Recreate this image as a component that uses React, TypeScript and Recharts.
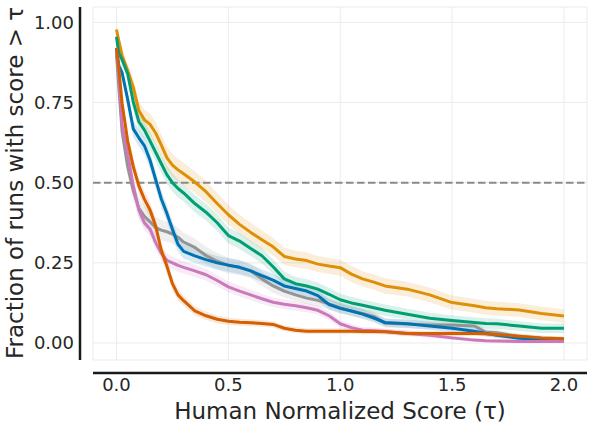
import React from "react"
import {
  ComposedChart,
  Area,
  Line,
  XAxis,
  YAxis,
  CartesianGrid,
  ReferenceLine,
} from "recharts"

const FONT = "DejaVu Sans"
const INK = "#262626"

// ─── Data ────────────────────────────────────────────────────────────────────

const TAU = [
  0, 0.01, 0.025, 0.05, 0.075,
  0.1, 0.125, 0.15, 0.175, 0.2,
  0.225, 0.25, 0.275, 0.3, 0.35,
  0.4, 0.45, 0.5, 0.55, 0.6,
  0.65, 0.7, 0.75, 0.8, 0.85,
  0.9, 0.95, 1.0, 1.05, 1.1,
  1.15, 1.2, 1.3, 1.4, 1.5,
  1.6, 1.65, 1.7, 1.8, 1.9,
  2.0,
]

const ORANGE = [
  0.978, 0.944, 0.897, 0.85, 0.798,
  0.725, 0.696, 0.682, 0.655, 0.618,
  0.578, 0.555, 0.54, 0.528, 0.502,
  0.472, 0.435, 0.4, 0.37, 0.345,
  0.322, 0.3, 0.27, 0.262, 0.257,
  0.246, 0.24, 0.235, 0.215, 0.2,
  0.19, 0.178, 0.168, 0.15, 0.126,
  0.116, 0.11, 0.107, 0.103, 0.092,
  0.084,
]
const ORANGE_CI = [
  0.008, 0.012, 0.018, 0.022, 0.026,
  0.03, 0.032, 0.034, 0.035, 0.035,
  0.035, 0.035, 0.035, 0.035, 0.034,
  0.033, 0.032, 0.031, 0.03, 0.03,
  0.029, 0.028, 0.027, 0.026, 0.026,
  0.025, 0.025, 0.025, 0.025, 0.024,
  0.024, 0.024, 0.023, 0.023, 0.022,
  0.022, 0.022, 0.022, 0.021, 0.021,
  0.021,
]

const GREEN = [
  0.955, 0.905, 0.884, 0.84, 0.752,
  0.69, 0.664, 0.63, 0.595, 0.56,
  0.525, 0.5, 0.482, 0.468, 0.435,
  0.408, 0.375, 0.335, 0.318, 0.295,
  0.272, 0.238, 0.2, 0.185, 0.178,
  0.168, 0.152, 0.135, 0.125, 0.118,
  0.11, 0.102, 0.09, 0.077, 0.07,
  0.064, 0.061, 0.06, 0.053, 0.046,
  0.046,
]
const GREEN_CI = [
  0.01, 0.014, 0.018, 0.022, 0.025,
  0.027, 0.028, 0.028, 0.028, 0.028,
  0.028, 0.028, 0.028, 0.027, 0.027,
  0.026, 0.026, 0.025, 0.025, 0.024,
  0.024, 0.023, 0.022, 0.021, 0.021,
  0.02, 0.02, 0.019, 0.019, 0.018,
  0.018, 0.018, 0.017, 0.017, 0.016,
  0.016, 0.016, 0.016, 0.015, 0.015,
  0.015,
]

const BLUE = [
  0.92, 0.865, 0.843, 0.76, 0.668,
  0.64, 0.615, 0.57, 0.51, 0.45,
  0.405, 0.355, 0.308, 0.286, 0.272,
  0.26, 0.25, 0.243, 0.236, 0.225,
  0.21, 0.196, 0.178, 0.17, 0.162,
  0.148, 0.12, 0.108, 0.1, 0.09,
  0.078, 0.064, 0.06, 0.053, 0.046,
  0.037, 0.03, 0.024, 0.015, 0.012,
  0.01,
]
const BLUE_CI = [
  0.012, 0.016, 0.02, 0.024, 0.026,
  0.027, 0.027, 0.027, 0.027, 0.027,
  0.026, 0.025, 0.024, 0.023, 0.022,
  0.022, 0.021, 0.021, 0.021, 0.02,
  0.02, 0.019, 0.019, 0.018, 0.018,
  0.017, 0.016, 0.016, 0.015, 0.015,
  0.014, 0.013, 0.013, 0.012, 0.012,
  0.011, 0.01, 0.009, 0.008, 0.007,
  0.007,
]

const GRAY = [
  0.9, 0.8, 0.66, 0.55, 0.475,
  0.42, 0.395, 0.378, 0.36, 0.352,
  0.347, 0.34, 0.33, 0.315, 0.298,
  0.273, 0.255, 0.242, 0.236, 0.225,
  0.2, 0.178, 0.162, 0.15, 0.14,
  0.133, 0.122, 0.11, 0.1, 0.092,
  0.083, 0.062, 0.059, 0.056, 0.056,
  0.053, 0.034, 0.032, 0.02, 0.015,
  0.012,
]
const GRAY_CI = [
  0.015, 0.02, 0.025, 0.03, 0.032,
  0.033, 0.033, 0.033, 0.032, 0.032,
  0.031, 0.03, 0.03, 0.029, 0.028,
  0.027, 0.026, 0.025, 0.024, 0.023,
  0.022, 0.021, 0.02, 0.019, 0.018,
  0.018, 0.017, 0.016, 0.016, 0.015,
  0.015, 0.014, 0.013, 0.013, 0.013,
  0.012, 0.011, 0.01, 0.009, 0.008,
  0.008,
]

const PINK = [
  0.91, 0.84, 0.68, 0.59, 0.49,
  0.415, 0.375, 0.355, 0.313, 0.28,
  0.258, 0.25, 0.242, 0.236, 0.225,
  0.213, 0.195, 0.175, 0.162, 0.15,
  0.138, 0.127, 0.121, 0.116, 0.11,
  0.102, 0.085, 0.06, 0.048, 0.04,
  0.038, 0.036, 0.03, 0.024, 0.016,
  0.009, 0.007, 0.006, 0.005, 0.005,
  0.005,
]
const PINK_CI = [
  0.015, 0.02, 0.024, 0.026, 0.026,
  0.025, 0.024, 0.023, 0.022, 0.021,
  0.02, 0.02, 0.02, 0.019, 0.019,
  0.018, 0.018, 0.017, 0.017, 0.016,
  0.016, 0.015, 0.015, 0.015, 0.014,
  0.014, 0.013, 0.012, 0.011, 0.01,
  0.01, 0.009, 0.009, 0.008, 0.007,
  0.006, 0.005, 0.005, 0.005, 0.005,
  0.005,
]

const RED = [
  0.92, 0.86, 0.748, 0.63, 0.55,
  0.49, 0.448, 0.415, 0.365, 0.29,
  0.24, 0.185, 0.15, 0.132, 0.1,
  0.085, 0.074, 0.068, 0.065, 0.063,
  0.061, 0.058, 0.046, 0.04, 0.037,
  0.037, 0.037, 0.037, 0.037, 0.036,
  0.036, 0.035, 0.03, 0.03, 0.03,
  0.03, 0.029, 0.026, 0.021, 0.016,
  0.013,
]
const RED_CI = [
  0.015, 0.02, 0.025, 0.026, 0.026,
  0.026, 0.025, 0.025, 0.024, 0.023,
  0.022, 0.02, 0.018, 0.016, 0.014,
  0.013, 0.012, 0.011, 0.011, 0.01,
  0.01, 0.01, 0.009, 0.009, 0.009,
  0.009, 0.009, 0.009, 0.009, 0.009,
  0.009, 0.008, 0.008, 0.008, 0.008,
  0.008, 0.008, 0.008, 0.007, 0.007,
  0.006,
]

const X_TICKS = [0, 0.5, 1, 1.5, 2]
const Y_TICKS = [0, 0.25, 0.5, 0.75, 1]

const SERIES = [
  { key: "orange", color: "#DE8F05", values: ORANGE, ci: ORANGE_CI },
  { key: "green", color: "#029E73", values: GREEN, ci: GREEN_CI },
  { key: "gray", color: "#949494", values: GRAY, ci: GRAY_CI },
  { key: "blue", color: "#0173B2", values: BLUE, ci: BLUE_CI },
  { key: "pink", color: "#CC78BC", values: PINK, ci: PINK_CI },
  { key: "red", color: "#D55E00", values: RED, ci: RED_CI },
]

const rows = TAU.map((tau, i) => {
  const row: Record<string, number | number[]> = { tau }
  for (const s of SERIES) {
    row[s.key] = s.values[i]
    row[`${s.key}Band`] = [s.values[i] - s.ci[i], s.values[i] + s.ci[i]]
  }
  return row
})

const tickStyle = { fontSize: 18, fill: INK, fontFamily: FONT }

export default function App() {
  return (
    <div style={{ position: "absolute", left: 0, top: 0, width: 590, height: 436, background: "#fff" }}>
      <ComposedChart width={590} height={436} data={rows} margin={{ top: 7, right: 3, left: 0, bottom: 0 }}>
        <CartesianGrid stroke="#ebebeb" strokeWidth={1} />
        <XAxis
          dataKey="tau" type="number" domain={[-0.105, 2.103]} ticks={X_TICKS} allowDataOverflow
          tickFormatter={(v: number) => v.toFixed(1)}
          axisLine={false} tickLine={false} tickSize={0} tickMargin={18} height={76} tick={tickStyle}
          label={{ value: "Human Normalized Score (τ)", position: "insideBottom", offset: 17, fontSize: 23, fill: INK, fontFamily: FONT }}
        />
        <YAxis
          type="number" domain={[-0.053, 1.048]} ticks={Y_TICKS} allowDataOverflow
          tickFormatter={(v: number) => v.toFixed(2)}
          axisLine={false} tickLine={false} tickSize={0} tickMargin={19} width={93} tick={tickStyle}
        />
        {SERIES.map((s) => (
          <Area key={`${s.key}-band`} dataKey={`${s.key}Band`} type="linear" stroke="none"
            fill={s.color} fillOpacity={0.15} isAnimationActive={false} activeDot={false} />
        ))}
        <ReferenceLine y={0.5} stroke="#8a8a8a" strokeWidth={2} strokeDasharray="7.5 3.5" />
        {SERIES.map((s) => (
          <Line key={s.key} dataKey={s.key} type="linear" stroke={s.color} strokeWidth={3}
            strokeLinejoin="round" dot={false} activeDot={false} isAnimationActive={false} />
        ))}
      </ComposedChart>
      <svg width={590} height={436} style={{ position: "absolute", left: 0, top: 0, pointerEvents: "none" }}>
        <line x1={80} y1={7} x2={80} y2={360} stroke="#1a1a1a" strokeWidth={2.5} />
        <line x1={93} y1={373} x2={587} y2={373} stroke="#1a1a1a" strokeWidth={2.5} />
        <text x={22.5} y={183} transform="rotate(-90 22.5 183)" textAnchor="middle"
          fontSize={23} fill={INK} fontFamily={FONT}>
          Fraction of runs with score &gt; τ
        </text>
      </svg>
    </div>
  )
}
